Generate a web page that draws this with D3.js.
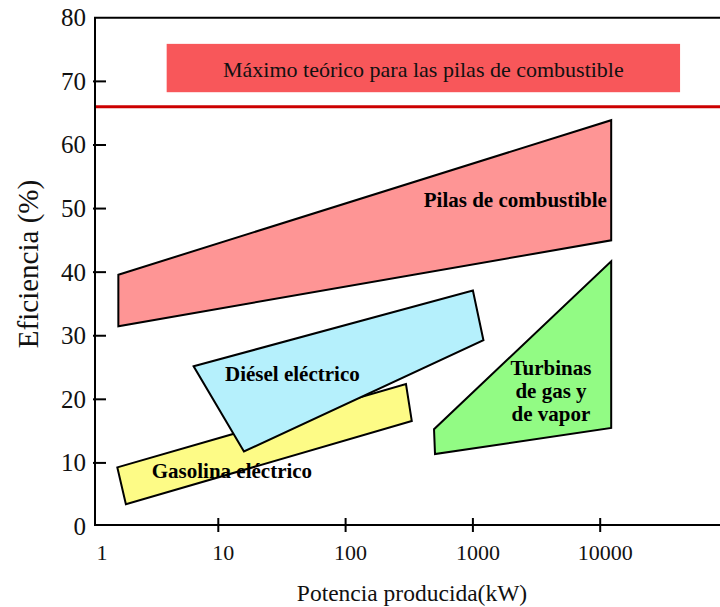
<!DOCTYPE html>
<html>
<head>
<meta charset="utf-8">
<script src="https://cdn.jsdelivr.net/npm/d3@7"></script>
<style>
  html, body { margin: 0; padding: 0; background: #fff; }
  svg { display: block; }
</style>
</head>
<body>
<svg id="chart" width="720" height="607"></svg>
<script>
// ---- Data ----
const xTickValues = [1, 10, 100, 1000, 10000];
const xTickLabels = ["1", "10", "100", "1000", "10000"];
const yTickValues = [0, 10, 20, 30, 40, 50, 60, 70, 80];
const yTickLabels = ["0", "10", "20", "30", "40", "50", "60", "70", "80"];

const categories = ["Pilas de combustible", "Diésel eléctrico", "Gasolina eléctrico", "Turbinas de gas y de vapor"];
// polygon vertices: [power kW, efficiency %]
const pilasPoly    = [[1.64, 39.6], [12200, 63.9], [12200, 45.0], [1.64, 31.5]];
const gasolinaPoly = [[1.61, 9.3], [298, 22.4], [331, 16.6], [1.88, 3.5]];
const dieselPoly   = [[6.4, 25.2], [1000, 37.1], [1210, 29.3], [15.9, 11.8]];
const turbinasPoly = [[12200, 41.7], [12200, 15.5], [504, 11.4], [495, 15.3]];

const theoreticalMax = 66;
const maxBoxX = [3.93, 42400];
const maxBoxY = [68.3, 75.9];
const maxBoxText = "Máximo teórico para las pilas de combustible";

const xTitle = "Potencia producida(kW)";
const yTitle = "Eficiencia (%)";

// ---- Drawing ----
const svg = d3.select("#chart");
const serif = "'Liberation Serif', 'Times New Roman', serif";

const x = d3.scaleLog().domain([1, 10000]).range([91, 600.2]);
const y = d3.scaleLinear().domain([0, 80]).range([526.5, 17.8]);

const axisLeft = 95, axisRight = 720;
const y0 = 525, yTop = y(80);

// theoretical max box
svg.append("rect")
  .attr("x", x(maxBoxX[0])).attr("y", y(maxBoxY[1]))
  .attr("width", x(maxBoxX[1]) - x(maxBoxX[0]))
  .attr("height", y(maxBoxY[0]) - y(maxBoxY[1]))
  .attr("fill", "#f8575a");
svg.append("text")
  .attr("x", (x(maxBoxX[0]) + x(maxBoxX[1])) / 2)
  .attr("y", y(maxBoxY[0]) - 15.5)
  .attr("text-anchor", "middle")
  .attr("font-family", serif).attr("font-size", 22).attr("fill", "#111")
  .text(maxBoxText);

// theoretical max line
svg.append("line")
  .attr("x1", axisLeft).attr("x2", axisRight)
  .attr("y1", y(theoreticalMax)).attr("y2", y(theoreticalMax))
  .attr("stroke", "#cc0000").attr("stroke-width", 3);

// polygons
const polys = [
  { pts: pilasPoly, fill: "#fe9595" },
  { pts: gasolinaPoly, fill: "#fdfb86" },
  { pts: dieselPoly, fill: "#b5f0fc" },
  { pts: turbinasPoly, fill: "#92fb84" }
];
const lineGen = d3.line().x(d => x(d[0])).y(d => y(d[1]));
svg.selectAll("path.region").data(polys).enter().append("path")
  .attr("class", "region")
  .attr("d", d => lineGen(d.pts) + "Z")
  .attr("fill", d => d.fill)
  .attr("stroke", "#000").attr("stroke-width", 2)
  .attr("stroke-linejoin", "miter");

// region labels
const lbl = (txt, xv, yv, anchor) => svg.append("text")
  .attr("x", x(xv)).attr("y", y(yv))
  .attr("text-anchor", anchor)
  .attr("font-family", serif).attr("font-weight", "bold").attr("font-size", 21)
  .attr("fill", "#000").text(txt);
lbl(categories[0], 11300, 50.2, "end");
lbl(categories[1], 11.3, 22.9, "start");
lbl(categories[2], 3.0, 7.6, "start");
const turbLines = ["Turbinas", "de gas y", "de vapor"];
turbLines.forEach((t, i) => {
  svg.append("text")
    .attr("x", x(4105)).attr("y", y(23.8) + i * 23)
    .attr("text-anchor", "middle")
    .attr("font-family", serif).attr("font-weight", "bold").attr("font-size", 21)
    .attr("fill", "#000").text(t);
});

// axes frame
const axisG = svg.append("g").attr("stroke", "#000").attr("stroke-width", 2);
axisG.append("line").attr("x1", axisLeft).attr("x2", axisLeft).attr("y1", yTop).attr("y2", y0 + 1);
axisG.append("line").attr("x1", axisLeft - 1).attr("x2", axisRight).attr("y1", y0).attr("y2", y0);
axisG.append("line").attr("x1", axisLeft - 1).attr("x2", axisRight).attr("y1", yTop).attr("y2", yTop);

// y ticks
axisG.selectAll("line.yt").data(yTickValues.filter(v => v > 0 && v < 80)).enter().append("line")
  .attr("x1", 93).attr("x2", 106)
  .attr("y1", d => y(d)).attr("y2", d => y(d));
// x ticks
axisG.selectAll("line.xt").data(xTickValues.filter(v => v > 1)).enter().append("line")
  .attr("x1", d => x(d)).attr("x2", d => x(d))
  .attr("y1", y0 - 7).attr("y2", y0 + 7);

// y tick labels
svg.selectAll("text.ytl").data(yTickValues).enter().append("text")
  .attr("x", 86).attr("y", d => y(d))
  .attr("dy", "0.34em")
  .attr("text-anchor", "end")
  .attr("font-family", serif).attr("font-size", 25).attr("fill", "#111")
  .text((d, i) => yTickLabels[i]);

// x tick labels
svg.selectAll("text.xtl").data(xTickValues).enter().append("text")
  .attr("x", d => Math.max(x(d), 97) + 5).attr("y", 560)
  .attr("text-anchor", "middle")
  .attr("font-family", serif).attr("font-size", 22).attr("fill", "#111")
  .text((d, i) => xTickLabels[i]);

// axis titles
svg.append("text")
  .attr("x", 412).attr("y", 601)
  .attr("text-anchor", "middle")
  .attr("font-family", serif).attr("font-size", 23.5).attr("fill", "#111")
  .text(xTitle);
svg.append("text")
  .attr("transform", "translate(38,264) rotate(-90)")
  .attr("text-anchor", "middle")
  .attr("font-family", serif).attr("font-size", 29).attr("fill", "#111")
  .text(yTitle);
</script>
</body>
</html>
